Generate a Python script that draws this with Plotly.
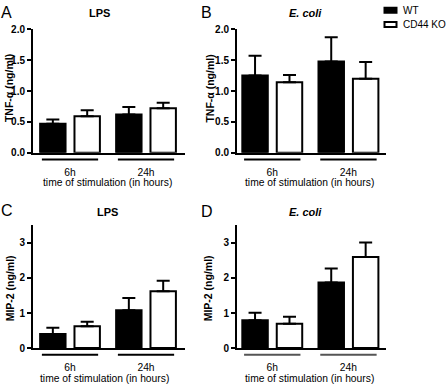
import plotly.graph_objects as go

W, H = 448, 391
FONT = "Liberation Sans, Arial, sans-serif"

times = ["6h", "24h"]
series = ["WT", "CD44 KO"]

# Panel A: TNF-alpha, LPS
a_wt = [0.47, 0.62]
a_wt_err = [0.07, 0.12]
a_ko = [0.59, 0.72]
a_ko_err = [0.10, 0.09]
# Panel B: TNF-alpha, E. coli
b_wt = [1.25, 1.48]
b_wt_err = [0.32, 0.39]
b_ko = [1.14, 1.20]
b_ko_err = [0.12, 0.27]
# Panel C: MIP-2, LPS
c_wt = [0.40, 1.08]
c_wt_err = [0.18, 0.35]
c_ko = [0.62, 1.62]
c_ko_err = [0.13, 0.30]
# Panel D: MIP-2, E. coli
d_wt = [0.79, 1.87]
d_wt_err = [0.22, 0.40]
d_ko = [0.69, 2.60]
d_ko_err = [0.20, 0.41]

tnf_ticks = [0.0, 0.5, 1.0, 1.5, 2.0]
tnf_ticklabels = ["0.0", "0.5", "1.0", "1.5", "2.0"]
mip_ticks = [0, 1, 2, 3]
mip_ticklabels = ["0", "1", "2", "3"]

panel_letters = ["A", "B", "C", "D"]
panel_titles = ["<b>LPS</b>", "<b><i>E. coli</i></b>", "<b>LPS</b>", "<b><i>E. coli</i></b>"]
y_titles = ["<b>TNF-α (ng/ml)</b>", "<b>TNF-α (ng/ml)</b>", "<b>MIP-2 (ng/ml)</b>", "<b>MIP-2 (ng/ml)</b>"]
x_title = "time of stimulation (in hours)"


def px(x):
    return x / W


def py(y):
    return 1 - y / H


fig = go.Figure()

panels = [
    (a_wt, a_wt_err, a_ko, a_ko_err),
    (b_wt, b_wt_err, b_ko, b_ko_err),
    (c_wt, c_wt_err, c_ko, c_ko_err),
    (d_wt, d_wt_err, d_ko, d_ko_err),
]

for i, (wt, wte, ko, koe) in enumerate(panels):
    xa = "x" if i == 0 else f"x{i+1}"
    ya = "y" if i == 0 else f"y{i+1}"
    fig.add_trace(go.Bar(
        x=times, y=wt, name=series[0], showlegend=False,
        marker=dict(color="black", line=dict(color="black", width=2)),
        error_y=dict(type="data", symmetric=False, array=wte, arrayminus=[0] * len(wte),
                     color="black", thickness=2, width=6.5),
        xaxis=xa, yaxis=ya,
    ))
    fig.add_trace(go.Bar(
        x=times, y=ko, name=series[1], showlegend=False,
        marker=dict(color="white", line=dict(color="black", width=2)),
        error_y=dict(type="data", symmetric=False, array=koe, arrayminus=[0] * len(koe),
                     color="black", thickness=2, width=6.5),
        xaxis=xa, yaxis=ya,
    ))

# layout geometry (pixels)
x_doms = [(33, 185), (237, 386), (33, 185), (237, 386)]
y_doms = [(25, 152), (25, 152), (226.7, 353), (226.7, 353)]
x_ranges = [[-0.487, 1.513], [-0.463, 1.493], [-0.487, 1.513], [-0.463, 1.493]]
y_ranges = [[0, 2], [0, 2], [0, 3.5], [0, 3.5]]

layout = dict(
    width=W, height=H, margin=dict(l=0, r=0, t=0, b=0),
    paper_bgcolor="white", plot_bgcolor="white",
    barmode="group", bargap=0.096, bargroupgap=0.26,
    font=dict(family=FONT, color="black", size=10),
    showlegend=False,
)

for i in range(4):
    xk = "xaxis" if i == 0 else f"xaxis{i+1}"
    yk = "yaxis" if i == 0 else f"yaxis{i+1}"
    yname = "y" if i == 0 else f"y{i+1}"
    xname = "x" if i == 0 else f"x{i+1}"
    layout[xk] = dict(
        domain=[px(x_doms[i][0]), px(x_doms[i][1])], anchor=yname,
        range=x_ranges[i], showgrid=False, zeroline=False,
        showline=True, linecolor="black", linewidth=2,
        ticks="outside", ticklen=9, tickcolor="rgba(0,0,0,0)",
        tickfont=dict(size=10.3, family=FONT), fixedrange=True,
    )
    ticks = tnf_ticks if i < 2 else mip_ticks
    labels = tnf_ticklabels if i < 2 else mip_ticklabels
    layout[yk] = dict(
        domain=[py(y_doms[i][1]), py(y_doms[i][0])], anchor=xname,
        range=y_ranges[i], showgrid=False, zeroline=False,
        showline=True, linecolor="black", linewidth=2,
        ticks="outside", ticklen=4, tickwidth=2, tickcolor="black",
        tickvals=ticks, ticktext=[f"<b>{t}</b>" for t in labels],
        tickfont=dict(size=10, family=FONT), fixedrange=True,
    )

fig.update_layout(**layout)

# group underlines below each x-axis
shapes = []
for i in range(4):
    xname = "x" if i == 0 else f"x{i+1}"
    yline = y_doms[i][1] + 7
    col = "#555555" if i == 3 else "black"
    for k in range(len(times)):
        shapes.append(dict(type="line", xref=xname, yref="paper",
                           x0=k - 0.37, x1=k + 0.37, y0=py(yline), y1=py(yline),
                           line=dict(color=col, width=2)))

# legend (swatches + labels)
legend_fill = ["black", "white"]
legend_y = [5.5, 20]
for k, name in enumerate(series):
    shapes.append(dict(type="rect", xref="paper", yref="paper",
                       x0=px(384.5), x1=px(396.5),
                       y0=py(legend_y[k] + 2.6), y1=py(legend_y[k] - 2.6),
                       fillcolor=legend_fill[k], line=dict(color="black", width=2)))
fig.update_layout(shapes=shapes)

ann = []
letter_pos = [(6, 8), (206.5, 8), (7, 211), (206.5, 212)]
title_pos = [(99, 8), (305, 8), (107, 213.5), (305, 213)]
ytitle_pos = [(8.5, 86), (210, 86), (10, 291.5), (208, 291.5)]
xtitle_pos = [(107.5, 182.8), (309, 182.8), (104, 384), (309, 384)]
for i in range(4):
    ann.append(dict(text=panel_letters[i], x=px(letter_pos[i][0]), y=py(letter_pos[i][1]),
                    xref="paper", yref="paper", showarrow=False,
                    font=dict(size=16, family=FONT), xanchor="center", yanchor="middle"))
    ann.append(dict(text=panel_titles[i], x=px(title_pos[i][0]), y=py(title_pos[i][1]),
                    xref="paper", yref="paper", showarrow=False,
                    font=dict(size=11, family=FONT), xanchor="center", yanchor="middle"))
    ann.append(dict(text=y_titles[i], x=px(ytitle_pos[i][0]), y=py(ytitle_pos[i][1]),
                    xref="paper", yref="paper", showarrow=False, textangle=-90,
                    font=dict(size=10.5, family=FONT), xanchor="center", yanchor="middle"))
    ann.append(dict(text=x_title, x=px(xtitle_pos[i][0]), y=py(xtitle_pos[i][1]),
                    xref="paper", yref="paper", showarrow=False,
                    font=dict(size=10.3, family=FONT), xanchor="center", yanchor="middle"))
for k, name in enumerate(series):
    ann.append(dict(text=name, x=px(401), y=py(legend_y[k]), xref="paper", yref="paper",
                    showarrow=False, font=dict(size=10, family=FONT),
                    xanchor="left", yanchor="middle"))
fig.update_layout(annotations=ann)

fig.write_html(
    "out.html",
    config=dict(displayModeBar=False),
    post_script="document.body.style.margin='0';document.body.style.padding='0';document.body.style.overflow='hidden';",
)
